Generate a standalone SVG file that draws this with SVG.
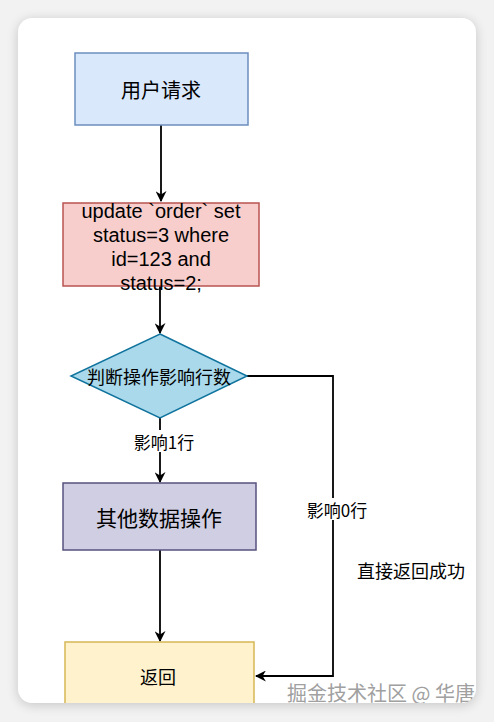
<svg xmlns="http://www.w3.org/2000/svg" width="494" height="722" viewBox="0 0 494 722">
<defs>
<filter id="sh" x="-10%" y="-10%" width="120%" height="120%"><feGaussianBlur stdDeviation="6"/></filter>
<clipPath id="card"><rect x="18" y="18" width="458" height="685" rx="14"/></clipPath>
<marker id="ah" viewBox="0 0 10 10" refX="9" refY="5" markerWidth="11" markerHeight="11" markerUnits="userSpaceOnUse" orient="auto"><path d="M0,0 L10,5 L0,10 L3,5 z" fill="#000"/></marker>
<style>
.t{font-family:"Noto Sans CJK SC","Liberation Sans",sans-serif;fill:#000;text-anchor:middle;dominant-baseline:central}
.l{font-family:"Liberation Sans",sans-serif;fill:#000;text-anchor:middle;dominant-baseline:central;font-size:20px}
.e{stroke:#000;stroke-width:1.8;fill:none;marker-end:url(#ah)}
</style>
</defs>
<rect width="494" height="722" fill="#f2f2f2"/>
<rect x="18" y="20" width="458" height="685" rx="14" fill="#000" opacity="0.18" filter="url(#sh)"/>
<rect x="18" y="18" width="458" height="685" rx="14" fill="#fff"/>
<g clip-path="url(#card)">
<g id="connectors">
<path class="e" d="M161,125 L161,201"/>
<path class="e" d="M160,286 L160,333"/>
<path class="e" d="M160,418 L160,482"/>
<path class="e" d="M160,550 L160,641"/>
<path class="e" d="M247,376 L333,376 L333,676 L256,676"/>
<rect x="129" y="430" width="70" height="22" fill="#fff"/>
<text class="t" x="164" y="441" font-size="17">影响1行</text>
<rect x="303" y="498" width="68" height="22" fill="#fff"/>
<text class="t" x="337" y="509" font-size="17">影响0行</text>
<text class="t" x="411" y="570" font-size="18">直接返回成功</text>
</g>
<g id="n1"><rect x="75" y="53" width="173" height="72" fill="#dae8fc" stroke="#6c8ebf" stroke-width="1.5"/><text class="t" x="161" y="89" font-size="20">用户请求</text></g>
<g id="n2"><rect x="63" y="203" width="196" height="83" fill="#f8cecc" stroke="#b85450" stroke-width="1.5"/>
<text class="l" x="161" y="211">update `order` set</text>
<text class="l" x="161" y="235">status=3 where</text>
<text class="l" x="161" y="259">id=123 and</text>
<text class="l" x="161" y="283">status=2;</text></g>
<g id="n3"><path d="M160,334 L247,376 L160,418 L71,376 Z" fill="#a9d9ea" stroke="#10739e" stroke-width="1.5"/><text class="t" x="159" y="376" font-size="18">判断操作影响行数</text></g>
<g id="n4"><rect x="63" y="483" width="193" height="67" fill="#d0cee2" stroke="#56517e" stroke-width="1.5"/><text class="t" x="159" y="517" font-size="21">其他数据操作</text></g>
<g id="n5"><rect x="65" y="642" width="189" height="80" fill="#fff2cc" stroke="#d6b656" stroke-width="1.5"/><text class="t" x="158" y="676" font-size="18">返回</text></g>
<text class="t" x="381" y="692" font-size="20" style="fill:#a0a0a0">掘金技术社区 @ 华唐</text>
</g>
</svg>
